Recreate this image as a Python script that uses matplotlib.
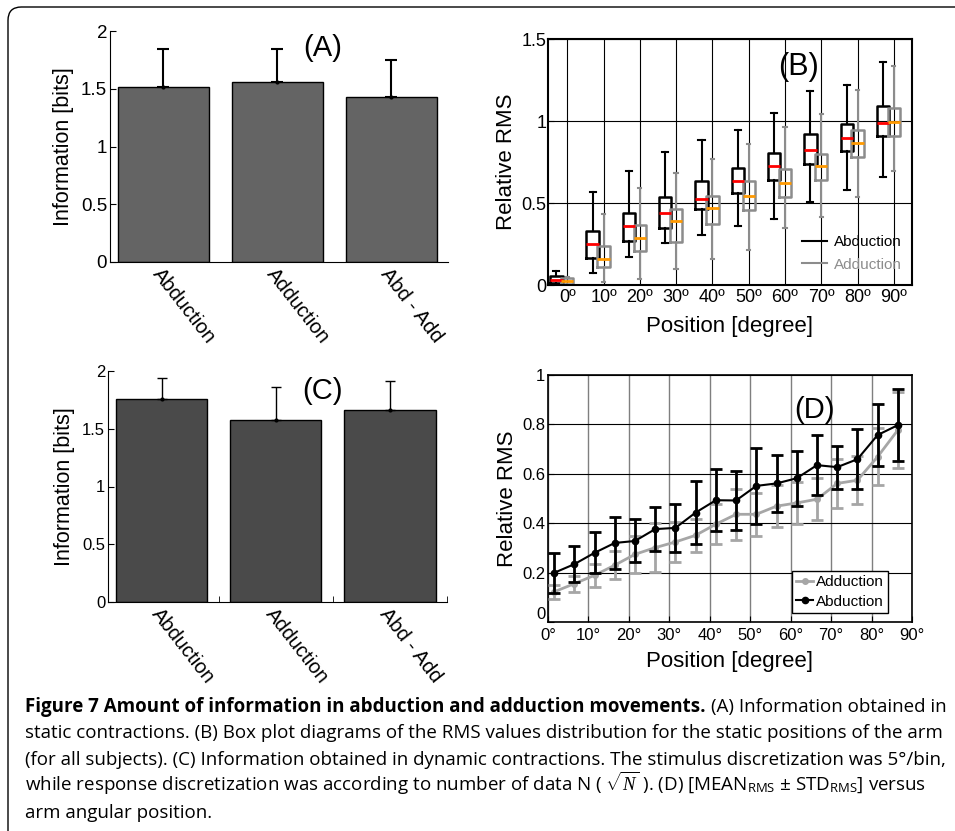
import matplotlib
matplotlib.use('Agg')
import matplotlib.pyplot as plt
from matplotlib import font_manager
from matplotlib.patches import FancyBboxPatch
import numpy as np

_names = set(f.name for f in font_manager.fontManager.ttflist)
NARROW = 'Liberation Sans Narrow' if 'Liberation Sans Narrow' in _names else 'Liberation Sans'
CAPFONT = 'Open Sans'

plt.rcParams['font.family'] = ['Liberation Sans', 'DejaVu Sans']
plt.rcParams['mathtext.fontset'] = 'custom'
plt.rcParams['mathtext.rm'] = CAPFONT
plt.rcParams['mathtext.it'] = 'Liberation Serif:italic'

# ---------------- data ----------------
bar_labels = ['Abduction', 'Adduction', 'Abd - Add']
info_static = [1.513, 1.556, 1.432]
info_static_err = [0.328, 0.285, 0.317]
info_dynamic = [1.758, 1.574, 1.666]
info_dynamic_err = [0.182, 0.288, 0.251]

box_labels = ['0º', '10º', '20º', '30º', '40º', '50º', '60º', '70º', '80º', '90º']
# abduction (black boxes)
abd_whislo = [0.000, 0.075, 0.169, 0.257, 0.305, 0.360, 0.401, 0.509, 0.580, 0.658]
abd_q1 = [0.012, 0.167, 0.267, 0.350, 0.462, 0.562, 0.639, 0.739, 0.819, 0.906]
abd_med = [0.028, 0.250, 0.358, 0.436, 0.527, 0.637, 0.723, 0.823, 0.898, 0.990]
abd_q3 = [0.055, 0.332, 0.442, 0.536, 0.633, 0.715, 0.802, 0.923, 0.982, 1.090]
abd_whishi = [0.085, 0.568, 0.698, 0.813, 0.884, 0.947, 1.049, 1.181, 1.220, 1.362]
# adduction (gray boxes)
add_whislo = [0.000, 0.018, 0.039, 0.100, 0.157, 0.212, 0.350, 0.415, 0.538, 0.697]
add_q1 = [0.008, 0.110, 0.206, 0.265, 0.373, 0.458, 0.536, 0.642, 0.782, 0.906]
add_med = [0.024, 0.159, 0.285, 0.393, 0.468, 0.540, 0.619, 0.723, 0.866, 0.992]
add_q3 = [0.040, 0.238, 0.363, 0.464, 0.542, 0.633, 0.709, 0.798, 0.947, 1.081]
add_whishi = [0.050, 0.432, 0.589, 0.680, 0.768, 0.862, 0.965, 1.043, 1.187, 1.334]

deg_d = [1.5, 6.5, 11.5, 16.5, 21.5, 26.5, 31.5, 36.5, 41.5, 46.5, 51.5, 56.5,
         61.5, 66.5, 71.5, 76.5, 81.5, 86.5]
abd_mean_d = [0.199, 0.234, 0.280, 0.320, 0.328, 0.376, 0.381, 0.443, 0.493, 0.492,
              0.551, 0.561, 0.582, 0.635, 0.627, 0.659, 0.757, 0.797]
abd_std_d = [0.082, 0.074, 0.083, 0.105, 0.087, 0.090, 0.096, 0.127, 0.125, 0.119,
             0.155, 0.115, 0.111, 0.122, 0.087, 0.122, 0.125, 0.146]
add_mean_d = [0.122, 0.155, 0.189, 0.230, 0.274, 0.301, 0.324, 0.351, 0.396, 0.436,
              0.436, 0.469, 0.482, 0.497, 0.561, 0.574, 0.669, 0.777]
add_std_d = [0.027, 0.032, 0.047, 0.056, 0.074, 0.100, 0.081, 0.068, 0.081, 0.103,
             0.088, 0.086, 0.084, 0.086, 0.099, 0.097, 0.116, 0.155]

W, H = 955, 831
fig = plt.figure(figsize=(W / 100, H / 100), dpi=100)


def box(l, t, r, b):
    return [l / W, 1 - b / H, (r - l) / W, (b - t) / H]


# ---------------- bar panels (A), (C) ----------------
def bar_panel(rect, vals, errs, color, lw_err, cap, tickfont, ticksize, tag, tagpos, minor):
    ax = fig.add_axes(rect)
    x = np.arange(1, 4)
    ax.bar(x, vals, width=0.8, color=color, edgecolor='black', linewidth=1, zorder=2)
    ax.errorbar(x, vals, yerr=[np.zeros(3), errs], fmt='.', color='black', ms=4,
                elinewidth=lw_err, capsize=cap, capthick=lw_err, zorder=3)
    ax.set_xlim(0.53, 3.5)
    ax.set_ylim(0, 2)
    ax.spines['top'].set_visible(False)
    ax.spines['right'].set_visible(False)
    ax.set_yticks([0, 0.5, 1, 1.5, 2])
    ax.set_yticklabels(['0', '0.5', '1', '1.5', '2'], family=tickfont, fontsize=ticksize)
    ax.tick_params(axis='y', direction='in', length=4, pad=2)
    ax.set_xticks(x - 0.06)
    ax.set_xticklabels(bar_labels, rotation=-52, ha='left', va='center',
                       rotation_mode='anchor', fontsize=14.5)
    ax.tick_params(axis='x', length=0, pad=6)
    if minor:
        ax.set_xticks([1.5, 2.5, 3.5], minor=True)
        ax.tick_params(axis='x', which='minor', direction='in', length=4)
    ax.set_ylabel('Information [bits]', fontsize=15.5, labelpad=5)
    ax.text(tagpos[0], tagpos[1], tag, transform=ax.transAxes, ha='center', va='center',
            fontsize=21)
    return ax


bar_panel(box(110, 31, 448, 262), info_static, info_static_err, '#646464', 1.5, 4,
          'Liberation Sans', 13.5, '(A)', (0.63, 0.926), False)
bar_panel(box(108, 371, 447, 602), info_dynamic, info_dynamic_err, '#4a4a4a', 1.0, 3.5,
          NARROW, 12, '(C)', (0.633, 0.915), True)

# ---------------- box plot panel (B) ----------------
axb = fig.add_axes(box(548, 39, 912, 285))
pos = np.arange(1, 11)
abd_stats = [dict(whislo=a, q1=b, med=c, q3=d, whishi=e)
             for a, b, c, d, e in zip(abd_whislo, abd_q1, abd_med, abd_q3, abd_whishi)]
add_stats = [dict(whislo=a, q1=b, med=c, q3=d, whishi=e)
             for a, b, c, d, e in zip(add_whislo, add_q1, add_med, add_q3, add_whishi)]
gray = '#8c8c8c'
axb.bxp(abd_stats, positions=pos - 0.3, widths=0.34, capwidths=0.17, showfliers=False,
        manage_ticks=False,
        boxprops=dict(color='black', linewidth=1.8),
        whiskerprops=dict(color='black', linewidth=1.5),
        capprops=dict(color='black', linewidth=1.5),
        medianprops=dict(color='#ff0000', linewidth=2))
axb.bxp(add_stats, positions=pos, widths=0.34, capwidths=0.09, showfliers=False,
        manage_ticks=False,
        boxprops=dict(color=gray, linewidth=1.8),
        whiskerprops=dict(color=gray, linewidth=1.5),
        capprops=dict(color=gray, linewidth=1.5),
        medianprops=dict(color='#ff9900', linewidth=2))
axb.set_xlim(0.47, 10.5)
axb.set_ylim(0, 1.5)
axb.set_xticks(pos)
axb.set_xticklabels(box_labels, fontsize=13)
axb.set_yticks([0, 0.5, 1, 1.5])
axb.set_yticklabels(['0', '0.5', '1', '1.5'], fontsize=13)
axb.tick_params(axis='x', length=0, pad=3)
axb.tick_params(axis='y', direction='in', length=4, pad=1)
axb.set_axisbelow(True)
axb.grid(True, color='black', linewidth=0.8)
for s in axb.spines.values():
    s.set_linewidth(1.5)
axb.set_ylabel('Relative RMS', fontsize=16, labelpad=3)
axb.set_xlabel('Position [degree]', fontsize=16, labelpad=7)
axb.text(0.687, 0.886, '(B)', transform=axb.transAxes, ha='center', va='center', fontsize=22)
hb = [plt.Line2D([], [], color='black', lw=1.5), plt.Line2D([], [], color=gray, lw=1.5)]
legb = axb.legend(hb, ['Abduction', 'Adduction'], loc='lower right', frameon=False,
                  fontsize=11, handlelength=1.7, handletextpad=0.45, labelspacing=0.55,
                  bbox_to_anchor=(0.99, 0.03), borderaxespad=0)
legb.get_texts()[1].set_color(gray)

# ---------------- mean +- std panel (D) ----------------
axd = fig.add_axes(box(548, 375, 912, 622))
axd.errorbar(deg_d, add_mean_d, yerr=add_std_d, color='#a6a6a6', marker='o', ms=4,
             lw=2, elinewidth=2, capsize=4, capthick=2, zorder=3)
axd.errorbar(deg_d, abd_mean_d, yerr=abd_std_d, color='black', marker='o', ms=4.5,
             lw=1.5, elinewidth=2, capsize=4.5, capthick=2, zorder=4)
axd.set_xlim(0, 90)
axd.set_ylim(0, 1)
axd.set_xticks(range(0, 91, 10))
axd.set_xticklabels(['%d°' % d for d in range(0, 91, 10)], family=NARROW, fontsize=12)
axd.set_yticks([0, 0.2, 0.4, 0.6, 0.8, 1])
axd.set_yticklabels(['0', '0.2', '0.4', '0.6', '0.8', '1'], family=NARROW, fontsize=12)
axd.get_yticklabels()[0].set_va('bottom')  # keep the corner "0" clear of "0°"
axd.tick_params(axis='x', direction='in', length=4, pad=4)
axd.tick_params(axis='y', direction='in', length=4, pad=2)
axd.set_axisbelow(True)
axd.grid(True, axis='y', color='black', linewidth=0.8)
axd.grid(True, axis='x', color='#7f7f7f', linewidth=1)
for s in axd.spines.values():
    s.set_linewidth(1.2)
axd.set_ylabel('Relative RMS', fontsize=16, labelpad=3)
axd.set_xlabel('Position [degree]', fontsize=16, labelpad=6)
axd.text(0.733, 0.858, '(D)', transform=axd.transAxes, ha='center', va='center', fontsize=21)
hd = [plt.Line2D([], [], color='#a6a6a6', lw=2, marker='o', ms=4),
      plt.Line2D([], [], color='black', lw=1.5, marker='o', ms=4.5)]
legd = axd.legend(hd, ['Adduction', 'Abduction'], loc='lower right',
                  bbox_to_anchor=(0.934, 0.036), borderaxespad=0,
                  fancybox=False, edgecolor='black', framealpha=1,
                  prop=dict(family=NARROW, size=11), handlelength=1.1,
                  handletextpad=0.15, borderpad=0.3, labelspacing=0.35)
legd.get_frame().set_linewidth(1)

# ---------------- caption ----------------
cap_x = 25 / W
cap_size = 13.5
base0 = 712
bold = 'Figure 7 Amount of information in abduction and adduction movements.'
t1 = fig.text(cap_x, 1 - base0 / H, bold, family=CAPFONT, fontsize=cap_size,
              weight='bold', va='baseline')
fig.canvas.draw()
bb = t1.get_window_extent(fig.canvas.get_renderer())
fig.text(bb.x1 / W + 5 / W, 1 - base0 / H, '(A) Information obtained in', family=CAPFONT,
         fontsize=cap_size, va='baseline')
caption_lines = [
    'static contractions. (B) Box plot diagrams of the RMS values distribution for the static positions of the arm',
    '(for all subjects). (C) Information obtained in dynamic contractions. The stimulus discretization was 5°/bin,',
    r'while response discretization was according to number of data N ( $\sqrt{N}$ ). (D) [MEAN$_{\mathrm{RMS}}$ ± STD$_{\mathrm{RMS}}$] versus',
    'arm angular position.',
]
for i, line in enumerate(caption_lines):
    fig.text(cap_x, 1 - (base0 + 26.4 * (i + 1)) / H, line, family=CAPFONT,
             fontsize=cap_size, va='baseline')

# page frame (rounded corner at top-left)
frame = FancyBboxPatch((8 / W, -0.2), 1.5, 1.2 - 7 / H,
                       boxstyle='round,pad=0,rounding_size=0.014',
                       transform=fig.transFigure, fill=False, edgecolor='black',
                       linewidth=1, mutation_aspect=W / H)
fig.add_artist(frame)

fig.savefig('out.png', dpi=100)
